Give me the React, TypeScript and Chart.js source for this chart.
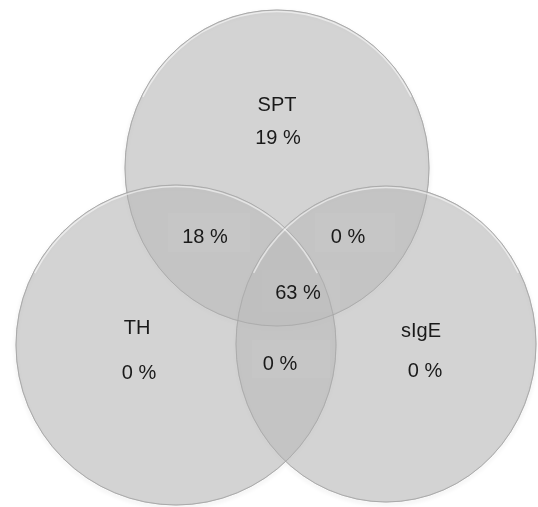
import { useEffect, useRef } from "react";
import { Chart, registerables } from "chart.js";
Chart.register(...registerables);

// ---- data ----
const setNames = ["SPT", "TH", "sIgE"];
const setShares = [19, 0, 0]; // exclusive share per set (%)
const overlapNames = ["SPT+TH", "SPT+sIgE", "TH+sIgE", "SPT+TH+sIgE"];
const overlapShares = [18, 0, 0, 63];

// ---- layout (data coordinates of a 538x507 plane) ----
const circleCenters = [
  { x: 277, y: 168 },
  { x: 176, y: 345 },
  { x: 386, y: 344 },
];
const circleRadii = [
  { rx: 152, ry: 158 },
  { rx: 160, ry: 160 },
  { rx: 150, ry: 158 },
];
const setNamePos = [
  { x: 277, y: 105 },
  { x: 137, y: 328 },
  { x: 421, y: 331 },
];
const setSharePos = [
  { x: 278, y: 138 },
  { x: 139, y: 373 },
  { x: 425, y: 371 },
];
const overlapPos = [
  { x: 205, y: 237 },
  { x: 348, y: 237 },
  { x: 280, y: 364 },
  { x: 298, y: 293 },
];
const overlapBoxes = [
  { x0: 168, y0: 213, x1: 250, y1: 252 },
  { x0: 315, y0: 213, x1: 395, y1: 252 },
  { x0: 252, y0: 340, x1: 330, y1: 378 },
  { x0: 262, y0: 270, x1: 340, y1: 312 },
];

const W = 538;
const H = 507;

const vennPlugin = {
  id: "venn",
  beforeDatasetsDraw(chart: any) {
    const { ctx, scales } = chart;
    const xs = scales.x;
    const ys = scales.y;
    const px = (v: number) => xs.getPixelForValue(v);
    const py = (v: number) => ys.getPixelForValue(v);
    const sx = (d: number) => Math.abs(xs.getPixelForValue(d) - xs.getPixelForValue(0));
    const sy = (d: number) => Math.abs(ys.getPixelForValue(d) - ys.getPixelForValue(0));

    // shadows
    ctx.save();
    circleCenters.forEach((c, i) => {
      ctx.beginPath();
      ctx.ellipse(px(c.x), py(c.y), sx(circleRadii[i].rx), sy(circleRadii[i].ry), 0, 0, Math.PI * 2);
      ctx.shadowColor = "rgba(0,0,0,0.28)";
      ctx.shadowBlur = 4;
      ctx.shadowOffsetY = 2;
      ctx.strokeStyle = "rgba(150,150,150,0.7)";
      ctx.lineWidth = 1;
      ctx.stroke();
    });
    ctx.restore();

    // fills
    ctx.save();
    circleCenters.forEach((c, i) => {
      ctx.beginPath();
      ctx.ellipse(px(c.x), py(c.y), sx(circleRadii[i].rx), sy(circleRadii[i].ry), 0, 0, Math.PI * 2);
      ctx.fillStyle = "rgba(188,188,188,0.66)";
      ctx.fill();
    });
    ctx.restore();

    // outlines and top highlight
    ctx.save();
    circleCenters.forEach((c, i) => {
      const cx = px(c.x);
      const cy = py(c.y);
      const rx = sx(circleRadii[i].rx);
      const ry = sy(circleRadii[i].ry);
      ctx.beginPath();
      ctx.ellipse(cx, cy, rx, ry, 0, 0, Math.PI * 2);
      ctx.strokeStyle = "rgba(160,160,160,0.55)";
      ctx.lineWidth = 1;
      ctx.stroke();
      ctx.beginPath();
      ctx.ellipse(cx, cy, rx - 1.5, ry - 1.5, 0, Math.PI * 1.15, Math.PI * 1.85);
      ctx.strokeStyle = "rgba(255,255,255,0.55)";
      ctx.lineWidth = 1.5;
      ctx.stroke();
    });
    ctx.restore();

    // faint text boxes
    ctx.save();
    ctx.fillStyle = "rgba(255,255,255,0.025)";
    overlapBoxes.forEach((b) => {
      ctx.fillRect(px(b.x0), py(b.y0), px(b.x1) - px(b.x0), py(b.y1) - py(b.y0));
    });
    ctx.restore();
  },
  afterDatasetsDraw(chart: any) {
    const { ctx } = chart;
    ctx.save();
    ctx.font = "20px 'Liberation Sans', Arial, sans-serif";
    ctx.fillStyle = "#1a1a1a";
    ctx.textAlign = "center";
    ctx.textBaseline = "middle";
    chart.data.datasets.forEach((ds: any, di: number) => {
      const meta = chart.getDatasetMeta(di);
      meta.data.forEach((el: any, i: number) => {
        ctx.fillText(ds.data[i].text, el.x, el.y);
      });
    });
    ctx.restore();
  },
};

export default function App() {
  const ref = useRef<HTMLCanvasElement | null>(null);
  useEffect(() => {
    document.body.style.margin = "0";
    const canvas = ref.current;
    if (!canvas) return;
    const nameData = setNames.map((n, i) => ({ x: setNamePos[i].x, y: setNamePos[i].y, text: n }));
    const shareData = setShares.map((v, i) => ({ x: setSharePos[i].x, y: setSharePos[i].y, text: `${v} %` }));
    const overlapData = overlapShares.map((v, i) => ({
      x: overlapPos[i].x,
      y: overlapPos[i].y,
      text: `${v} %`,
      name: overlapNames[i],
    }));
    const chart = new Chart(canvas, {
      type: "scatter",
      data: {
        datasets: [
          { label: "sets", data: nameData as any, pointRadius: 0 },
          { label: "set shares", data: shareData as any, pointRadius: 0 },
          { label: "overlaps", data: overlapData as any, pointRadius: 0 },
        ],
      },
      options: {
        animation: false,
        responsive: false,
        maintainAspectRatio: false,
        layout: { padding: 0 },
        events: [],
        scales: {
          x: { type: "linear", min: 0, max: W, display: false },
          y: { type: "linear", min: 0, max: H, reverse: true, display: false },
        },
        plugins: { legend: { display: false }, tooltip: { enabled: false } },
      },
      plugins: [vennPlugin],
    });
    return () => chart.destroy();
  }, []);
  return (
    <div style={{ width: W, height: H, background: "#fff" }}>
      <canvas ref={ref} width={W} height={H} style={{ display: "block", width: W, height: H }} />
    </div>
  );
}
